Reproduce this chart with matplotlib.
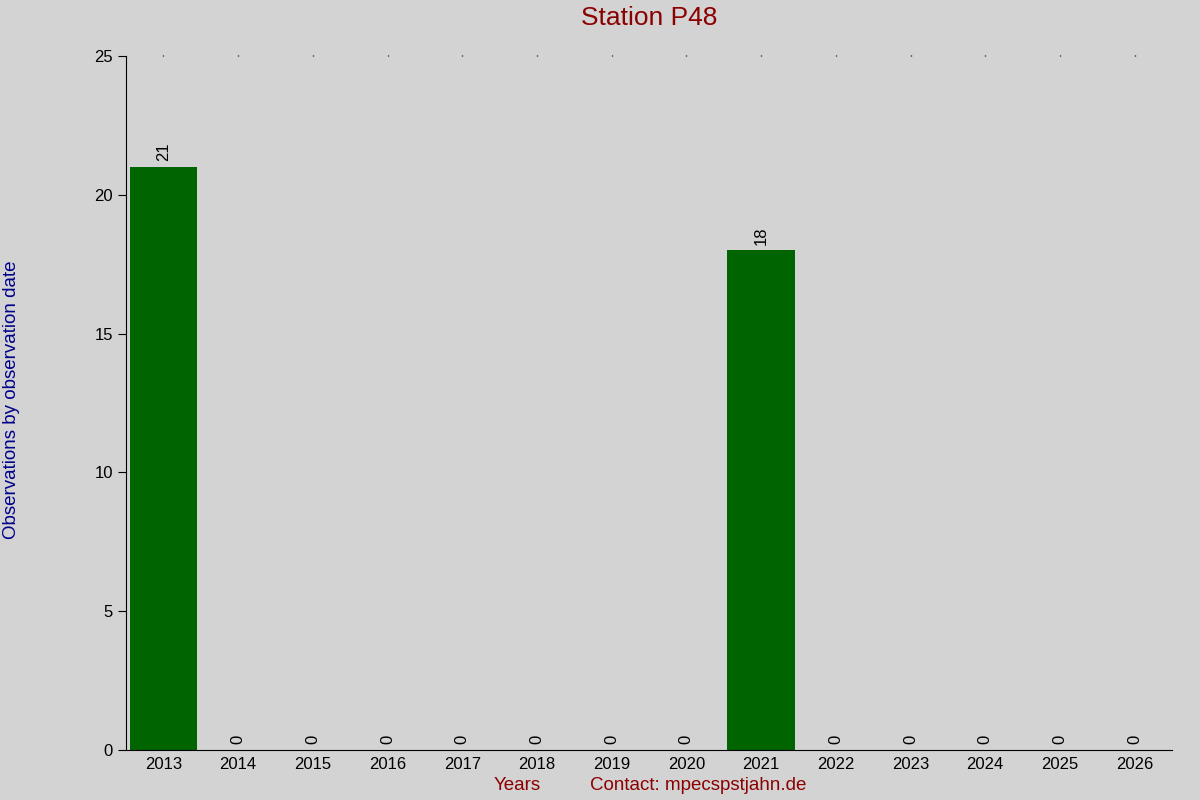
import matplotlib
matplotlib.use("Agg")
import matplotlib.pyplot as plt
import numpy as np

years = ["2013", "2014", "2015", "2016", "2017", "2018", "2019",
         "2020", "2021", "2022", "2023", "2024", "2025", "2026"]
counts = [21, 0, 0, 0, 0, 0, 0, 0, 18, 0, 0, 0, 0, 0]

bg = "#d3d3d3"
plt.rcParams["font.family"] = ["Liberation Sans", "DejaVu Sans"]

fig = plt.figure(figsize=(12, 8), dpi=100, facecolor=bg)
ax = fig.add_axes([126 / 1200, 50 / 800, (1172 - 126) / 1200, (750 - 56) / 800])
ax.set_facecolor(bg)

x = np.arange(len(years))
ax.bar(x, counts, width=0.9, color="#006400")

# value labels above each bar
for xi, v in zip(x, counts):
    ax.annotate(str(v), (xi, v), xytext=(0, 4), textcoords="offset points",
                rotation=90, ha="center", va="bottom", fontsize=12)

ax.set_xlim(-0.5, len(years) - 0.5)
ax.set_ylim(0, 25)
ax.set_yticks([0, 5, 10, 15, 20, 25])
ax.set_xticks(x)
ax.set_xticklabels(years, fontsize=12)
ax.tick_params(axis="y", labelsize=12, length=6, direction="out")
ax.tick_params(axis="x", bottom=False, top=True, length=1, width=1, pad=4)

for s in ["top", "right"]:
    ax.spines[s].set_visible(False)

# title centred over the plot area
fig.text(649 / 1200, 1 - 18 / 800, "Station P48", color="#8b0000", fontsize=19,
         ha="center", va="center")
fig.text(517 / 1200, 14 / 800, "Years", color="#8b0000", fontsize=13.5, ha="center", va="center")
fig.text(698 / 1200, 14 / 800, "Contact: mpecspstjahn.de", color="#8b0000",
         fontsize=13.5, ha="center", va="center")
fig.text(12 / 1200, 0.5, "Observations by observation date", color="#00008b",
         fontsize=13.5, rotation=90, ha="center", va="center")

fig.savefig("out.png", dpi=100, facecolor=bg)
